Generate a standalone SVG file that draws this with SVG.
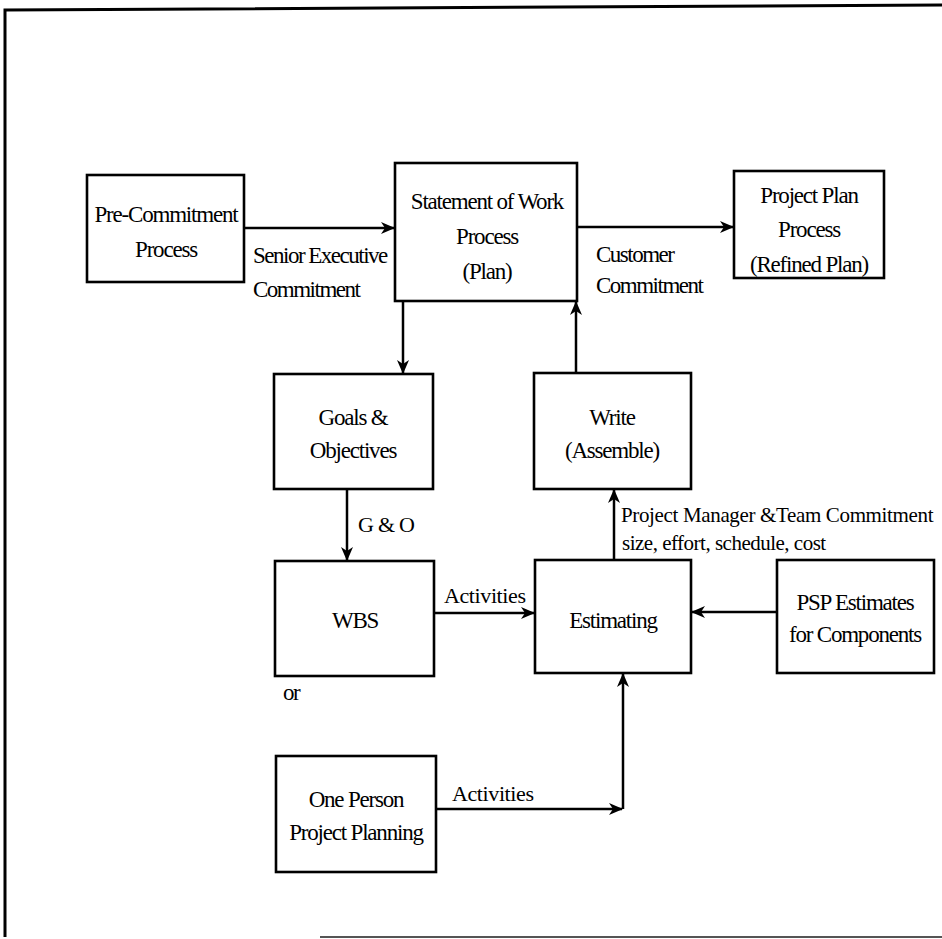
<svg xmlns="http://www.w3.org/2000/svg" width="942" height="939" viewBox="0 0 942 939" font-family="'Liberation Serif', 'Times New Roman', serif">
  <style>
    .box { fill: #fff; stroke: #000; stroke-width: 2.6; }
    .frame { fill: none; stroke: #000; stroke-width: 3; }
    .edge { fill: none; stroke: #000; stroke-width: 2.5; }
    text { font-family: "Liberation Serif", "Times New Roman", serif; fill: #000; }
    .t { font-size: 23px; letter-spacing: -1.2px; text-anchor: middle; }
    .lbl { font-size: 23px; letter-spacing: -1.5px; }
    .sm { font-size: 21px; }
    .act { font-size: 22px; letter-spacing: -0.4px; }
  </style>
  <defs>
    <marker id="arr" viewBox="0 0 14 12" refX="13" refY="6" markerWidth="14" markerHeight="12" markerUnits="userSpaceOnUse" orient="auto">
      <path d="M0,0 L14,6 L0,12 L4,6 Z" fill="#000"/>
    </marker>
  </defs>

  <!-- page frame -->
  <path class="frame" d="M5,937 L5,10 L942,5"/>
  <path d="M320,937 L942,937" stroke="#555" stroke-width="2" fill="none"/>

  <!-- connectors -->
  <g id="connectors">
    <path class="edge" d="M244,228 L394,228" marker-end="url(#arr)"/>
    <path class="edge" d="M577,227 L733,227" marker-end="url(#arr)"/>
    <path class="edge" d="M403,301 L403,373" marker-end="url(#arr)"/>
    <path class="edge" d="M576,373 L576,302" marker-end="url(#arr)"/>
    <path class="edge" d="M347,489 L347,560" marker-end="url(#arr)"/>
    <path class="edge" d="M614,560 L614,490" marker-end="url(#arr)"/>
    <path class="edge" d="M434,613 L534,613" marker-end="url(#arr)"/>
    <path class="edge" d="M777,612 L692,612" marker-end="url(#arr)"/>
    <path class="edge" d="M436,809 L622,809" marker-end="url(#arr)"/>
    <path class="edge" d="M623,809 L623,674" marker-end="url(#arr)"/>

    <text class="lbl" x="253" y="263">Senior Executive</text>
    <text class="lbl" x="253" y="297">Commitment</text>
    <text class="lbl" x="596" y="262">Customer</text>
    <text class="lbl" x="596" y="293">Commitment</text>
    <text x="358" y="532" style="font-size:22px;letter-spacing:4px">G&amp;O</text>
    <text class="sm" x="621" y="522" style="letter-spacing:-0.35px">Project Manager &amp;Team Commitment</text>
    <text class="sm" x="622" y="550" style="letter-spacing:-0.5px">size, effort, schedule, cost</text>
    <text class="act" x="444" y="603">Activities</text>
    <text class="act" x="452" y="801">Activities</text>
    <text class="lbl" x="283" y="700">or</text>
  </g>

  <g id="pre-commitment">
    <rect class="box" x="87" y="175" width="157" height="107"/>
    <text class="t" x="166" y="222">Pre-Commitment</text>
    <text class="t" x="166" y="257">Process</text>
  </g>

  <g id="statement-of-work">
    <rect class="box" x="395" y="163" width="182" height="138"/>
    <text class="t" x="487" y="209">Statement of Work</text>
    <text class="t" x="487" y="244">Process</text>
    <text class="t" x="487" y="279">(Plan)</text>
  </g>

  <g id="project-plan">
    <rect class="box" x="734" y="171" width="150" height="107"/>
    <text class="t" x="809" y="203">Project Plan</text>
    <text class="t" x="809" y="237">Process</text>
    <text class="t" x="809" y="272">(Refined Plan)</text>
  </g>

  <g id="goals">
    <rect class="box" x="274" y="374" width="159" height="115"/>
    <text class="t" x="353" y="425">Goals &amp;</text>
    <text class="t" x="353" y="458">Objectives</text>
  </g>

  <g id="write">
    <rect class="box" x="534" y="373" width="157" height="116"/>
    <text class="t" x="612" y="425">Write</text>
    <text class="t" x="612" y="458">(Assemble)</text>
  </g>

  <g id="wbs">
    <rect class="box" x="275" y="561" width="159" height="115"/>
    <text class="t" x="355" y="628">WBS</text>
  </g>

  <g id="estimating">
    <rect class="box" x="535" y="560" width="156" height="113"/>
    <text class="t" x="613" y="628">Estimating</text>
  </g>

  <g id="psp-estimates">
    <rect class="box" x="777" y="560" width="157" height="113"/>
    <text class="t" x="855" y="610">PSP Estimates</text>
    <text class="t" x="855" y="642">for Components</text>
  </g>

  <g id="one-person">
    <rect class="box" x="276" y="756" width="160" height="116"/>
    <text class="t" x="356" y="807">One Person</text>
    <text class="t" x="356" y="840">Project Planning</text>
  </g>
</svg>
